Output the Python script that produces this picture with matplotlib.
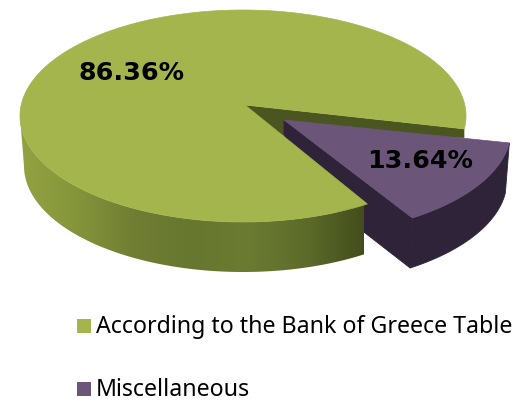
import numpy as np
import matplotlib
matplotlib.use('Agg')
import matplotlib.pyplot as plt
from matplotlib.colors import LinearSegmentedColormap
from matplotlib.patches import Polygon, Rectangle

# Data
categories = ['According to the Bank of Greece Table', 'Miscellaneous']
shares = [86.36, 13.64]
share_labels = ['86.36%', '13.64%']

# Colours
green_top = '#a3b54c'
green_wall = '#4a5520'
purple_top = '#6b5679'
purple_side = '#2e2339'
green_side_stops = ['#93a342', '#84943b', '#6f7e33', '#68772f', '#6b7b32', '#5d6b2a', '#434e1c']

# Pie geometry, in pixels
cx, cy = 243, 116
rx, ry = 223, 106
hub = np.array([245, 105])
depth = 50
side_rx = 219
small_hub = np.array([284, 120])
ex, ey = 45, 14
start_angle = -7


def rim(t, dx=0, dy=0, a=rx):
    t = np.radians(t)
    return np.column_stack([cx + a*np.cos(t) + dx, cy - ry*np.sin(t) + dy])


fig = plt.figure(figsize=(5.12, 4.05), dpi=100)
ax = fig.add_axes([0, 0, 1, 1])
ax.set_xlim(0, 512)
ax.set_ylim(405, 0)
ax.axis('off')

# Slice angles come from the shares, the small slice sits on the lower right
small_span = shares[1]/sum(shares)*360
a1 = start_angle
a2 = start_angle - small_span
t_big = np.linspace(a1, a1 + 360 - small_span, 400)
t_small = np.linspace(a1, a2, 80)

# Cut wall at the back of the gap
r1 = rim(a1)[0]
ax.add_patch(Polygon([hub, r1, r1 + [0, 9], hub + [0, 30]], color=green_wall, lw=0, zorder=1))

# Pulled out slice: radial wall, outer band, then the top face
c2 = rim(a2, ex, ey)[0]
ax.add_patch(Polygon([small_hub, c2, rim(a2, ex, ey + depth, a=side_rx)[0], small_hub + [0, depth]],
                     fc=purple_side, ec=purple_side, lw=0.6, zorder=2))
ax.add_patch(Polygon(np.vstack([rim(t_small, ex, ey), rim(t_small, ex, ey + depth, a=side_rx)[::-1]]),
                     fc=purple_side, ec=purple_side, lw=0.6, zorder=2))
ax.add_patch(Polygon(np.vstack([[small_hub], rim(t_small, ex, ey)]),
                     color=purple_top, ec=purple_top, lw=0.5, zorder=3))

# Outer side of the big slice, shaded from left to right
front_t = np.linspace(180, a2 + 360, 200)
side_path = Polygon(np.vstack([rim(front_t), rim(front_t, 0, depth, a=side_rx)[::-1]]),
                    fc='none', lw=0, transform=ax.transData)
ax.add_patch(side_path)
cmap = LinearSegmentedColormap.from_list('side', green_side_stops)
im = ax.imshow(np.linspace(0, 1, 256).reshape(1, -1), cmap=cmap, aspect='auto',
               extent=[20, 364, 275, 110], zorder=4)
im.set_clip_path(side_path)
ax.set_xlim(0, 512)
ax.set_ylim(405, 0)

# Top of the big slice
ax.add_patch(Polygon(np.vstack([[hub], rim(t_big)]), color=green_top, ec=green_top, lw=0.5, zorder=5))

# Percent labels
ax.text(78, 80, share_labels[0], fontsize=18.3, fontweight='bold', color='black', zorder=6)
ax.text(367, 168, share_labels[1], fontsize=18.3, fontweight='bold', color='black', zorder=6)

# Legend
for y, name, col in zip([319, 382], categories, [green_top, purple_top]):
    ax.add_patch(Rectangle((77, y), 14, 14, color=col, lw=0))
    ax.text(96, y + 14, name, fontsize=16.7, family='Noto Sans', color='black')

fig.savefig('out.png', dpi=100)
